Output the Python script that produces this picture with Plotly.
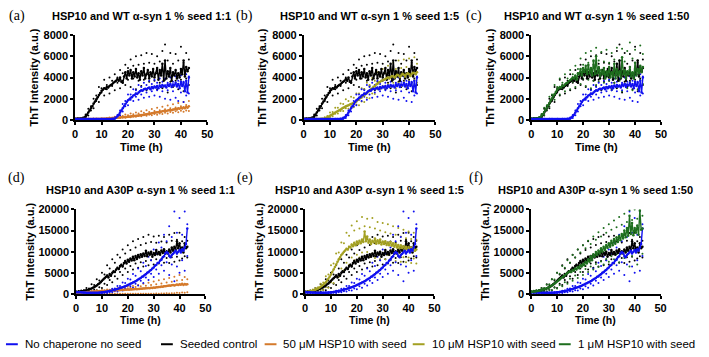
import plotly.graph_objects as go

# ---------------- DATA ----------------
# Mean curves, sampled every 0.5 h (t = 0 ... 43 h)
MEAN_STEP = 0.5
# Replicate points, sampled every 1 h (t = 0 ... 43 h)
REP_STEP = 1.0

WT_BLUE = [100,100,105,100,100,105,100,100,100,105,
           100,100,100,100,105,100,100,100,105,100,
           100,100,100,105,100,100,105,100,110,120,
           150,230,350,500,700,900,1100,1300,1500,1700,
           1850,1950,2100,2150,2300,2350,2500,2450,2600,2700,
           2800,2750,2900,2950,2900,3000,3050,2900,3100,3000,
           3150,3050,3200,3000,3250,3100,3300,3150,3250,3050,
           3350,3200,3400,3100,3350,3250,3500,3150,3400,3000,
           3600,3200,3500,2700,3700,2600,4000]
WT_BLUE_R1 = [115,105,120,110,100,115,105,120,110,100,115,
              105,118,110,130,230,480,900,1500,1800,2400,2400,
              2900,2800,3300,3100,3500,3300,3700,3400,3800,3500,3900,
              3600,3900,3500,4000,3600,4100,3700,4200,3600,4300,4100]
WT_BLUE_R2 = [85,95,80,90,95,85,90,80,95,85,90,
              95,85,90,100,110,190,450,800,1300,1400,1900,
              1800,2200,1900,2400,2100,2600,2200,2700,2300,2800,2200,
              2700,2000,2800,1900,2700,2100,1800,2600,1700,2300,2500]

WT_BLACK = [100,120,110,130,120,140,160,230,350,500,
            700,900,1100,1300,1550,1750,1950,2150,2350,2550,
            2750,2850,3000,2950,3100,3050,3200,3300,3350,3500,
            3600,3700,3850,3700,4000,3600,3500,4100,4500,3900,
            4600,4200,4700,3900,4500,4100,4800,4000,4400,3800,
            4600,4200,4900,3900,4300,4700,3900,4500,4100,4800,
            4000,4400,4900,3800,4700,4200,5300,3700,5600,3900,
            4600,4100,4900,3700,4500,4200,4700,3900,4400,4000,
            4800,4300,5600,4100,5000,4600,4900]
WT_BLACK_R1 = [150,170,140,230,520,1050,1300,2000,2300,3100,3000,
               3800,3300,4000,3700,4300,4000,4700,4400,5200,4900,5700,
               5100,6000,5200,6100,5300,6300,5400,6200,5300,6000,5500,
               6500,7100,5600,6300,5300,6200,5600,6900,5400,6300,5700]
WT_BLACK_R2 = [70,95,105,110,240,420,900,1100,1800,1700,2600,
               2300,2900,2500,3200,2800,3500,3000,3700,3300,3800,3100,
               3900,2900,3700,3200,3800,2800,3600,3100,3700,2900,3500,
               3000,3800,2600,3600,3100,3700,2900,3800,2700,3900,3300]

WT_50UM = [100,100,100,100,100,100,100,100,100,100,
           100,100,100,100,100,100,100,100,100,105,
           110,115,120,130,140,150,160,170,180,190,
           200,210,220,235,240,255,260,275,280,290,
           300,320,330,350,360,380,400,410,430,450,
           470,480,500,530,550,560,590,600,640,650,
           680,700,730,740,780,790,820,840,870,860,
           900,930,950,920,990,1000,1050,980,1100,1050,
           1150,1080,1200,1100,1250,1150,1300]
WT_50UM_R1 = [115,105,120,110,100,115,105,120,110,100,115,
              120,160,230,220,320,290,420,380,520,460,610,
              540,720,610,820,690,930,760,1040,850,1150,930,
              1260,1010,1370,1100,1480,1190,1600,1290,1700,1420,1800]
WT_50UM_R2 = [85,95,80,90,95,85,90,80,95,85,90,
              95,115,130,150,140,190,180,240,220,290,260,
              340,300,390,350,440,400,500,450,560,500,620,
              560,690,620,760,680,820,730,880,780,900,850]

WT_10UM = [100,100,100,100,100,100,100,100,100,100,
           100,100,105,110,120,130,150,200,250,320,
           400,480,550,620,700,780,850,930,1000,1080,
           1150,1230,1300,1350,1400,1450,1500,1550,1600,1680,
           1750,1880,1930,2080,2130,2280,2330,2480,2520,2690,
           2720,2930,2970,3140,3170,3340,3380,3540,3570,3690,
           3750,3800,3850,3950,4000,3900,4050,4150,4100,4000,
           4150,4250,4200,4050,4200,4350,4250,4100,4300,4400,
           4300,4150,4350,4450,4400,4300,4500]
WT_10UM_R1 = [115,105,120,110,100,115,105,120,260,380,720,
              760,1150,1150,1550,1500,1950,1800,2200,2100,2500,2500,
              3000,2900,3500,3300,3950,3700,4500,4100,4800,4400,5100,
              4700,5400,4800,5600,4900,5700,5000,5800,5100,5900,5300]
WT_10UM_R2 = [85,95,80,90,95,85,90,80,100,130,280,
              360,580,620,850,860,1100,1050,1250,1200,1450,1400,
              1750,1700,2100,2050,2500,2450,2900,2900,3200,3000,3400,
              3100,3500,3000,3500,3200,3600,3100,3700,3300,3800,3500]

WT_1UM = [120,130,120,140,130,150,180,260,400,550,
          750,950,1150,1400,1600,1850,2050,2250,2450,2650,
          2850,3000,3100,3050,3250,3200,3350,3450,3500,3650,
          3750,3850,4000,3900,4200,3800,4400,4300,4800,4200,
          4900,4500,5100,4300,5200,4400,4900,4200,5600,4300,
          6000,4400,5000,4100,4700,4300,4900,3900,4600,4200,
          5000,4000,4500,4100,5300,3900,4800,4200,4600,4000,
          5900,4300,4700,3900,4600,4300,5000,4100,4500,3900,
          5400,4200,4800,4400,5100,4500,5000]
WT_1UM_R1 = [160,180,170,260,560,1150,1400,2200,2400,3300,3100,
             3900,3500,4300,3900,4700,4300,5100,4800,5800,5200,6300,
             5400,6500,5500,6800,5600,6400,5500,6600,5400,6300,5700,
             6800,5600,6700,5500,6500,7300,5800,6600,5600,7000,6200]
WT_1UM_R2 = [85,105,100,140,280,480,950,1250,1900,1900,2700,
             2400,3000,2700,3300,2900,3600,3100,3900,3400,3900,3200,
             3800,3000,3700,3300,3600,2900,3500,3100,3700,2800,3500,
             3100,3700,2700,3400,3000,3600,2800,3500,2900,3800,3400]

A30P_BLUE = [400,420,380,400,380,360,350,330,320,300,
             300,290,280,280,280,290,300,310,330,350,
             380,410,450,500,550,620,680,750,830,920,
             1000,1100,1200,1300,1400,1500,1600,1700,1800,1950,
             2100,2250,2400,2550,2700,2850,3000,3200,3400,3600,
             3800,4050,4150,4500,4650,5000,5150,5500,5650,6050,
             6250,6700,6850,7300,7400,7900,8100,8700,8900,9600,
             9900,9700,9000,8700,9200,9500,9800,10200,9600,10000,
             10400,9800,10600,10200,11000,11800,15500]
A30P_BLUE_R1 = [520,460,470,400,420,360,390,350,400,380,470,
                520,760,850,1250,1300,1900,1900,2700,2600,3600,3400,
                4700,4300,6000,5400,7400,6600,8800,8000,10500,9600,12200,
                11000,14000,12500,16000,13500,19500,14500,18000,14000,19500,16500]
A30P_BLUE_R2 = [280,300,240,260,200,220,170,210,180,230,210,
                280,260,400,380,620,560,900,800,1300,1100,1800,
                1500,2400,2000,3100,2600,3900,3300,4800,4000,5800,4800,
                6800,5500,7500,4500,7000,3000,6500,5000,8000,5500,9000]

A30P_BLACK = [400,450,500,550,600,650,700,780,850,950,
              1050,1150,1300,1450,1600,1800,2000,2300,2500,2800,
              3100,3400,3700,4000,4400,3900,4700,4300,5000,5400,
              5200,5800,6200,5900,6600,6900,6500,7300,7800,7200,
              8100,7600,8400,7900,8800,8000,9000,8300,9200,8600,
              9400,8800,9600,9000,10200,8900,9800,9300,10000,8800,
              9700,9200,10400,9400,9900,9300,10300,9700,10600,9500,
              10100,9600,10500,9800,11000,10200,11200,10400,12500,10800,
              12000,10300,11000,9800,12000,10800,11200]
A30P_BLACK_R1 = [620,700,850,900,1400,1300,2300,2100,3500,3200,5000,
                 4600,6800,6000,8200,7400,9300,8600,10500,9600,11500,10400,
                 12500,11000,13000,11600,13500,12000,14000,12300,13600,12100,13800,
                 12400,13500,12200,14000,12600,14400,12800,14500,12500,13500,12600]
A30P_BLACK_R2 = [250,300,300,420,400,650,600,1000,900,1600,1400,
                 2400,2100,3300,2800,4200,3600,5200,4500,6000,5200,6600,
                 5800,7200,6200,7500,6500,7800,6800,8000,7000,8200,7200,
                 8300,7400,8500,7300,8700,7600,8800,7900,8400,8900,8600]

A30P_50UM = [300,320,330,340,350,360,380,400,420,440,
             460,480,500,520,540,560,580,600,620,640,
             660,680,700,720,740,760,780,800,820,840,
             870,860,920,900,950,930,980,960,1010,990,
             1040,1020,1080,1060,1120,1100,1160,1140,1200,1180,
             1240,1230,1300,1280,1350,1340,1400,1380,1450,1440,
             1520,1500,1590,1570,1670,1640,1750,1720,1830,1800,
             1900,1950,2000,1950,2050,2100,2000,2150,2250,2100,
             2300,2200,2400,2150,2350,2250,2300]
A30P_50UM_R1 = [450,470,520,510,580,580,680,680,800,780,920,
                880,1050,1000,1180,1100,1350,1250,1500,1350,1700,1500,
                1900,1650,2150,1800,2400,1950,2650,2100,2950,2300,3250,
                2500,3500,2700,3800,2900,4100,3200,4500,3300,4000,3500]
A30P_50UM_R2 = [150,160,130,140,110,120,90,110,80,100,70,
                90,60,80,50,70,40,60,40,50,30,50,
                30,50,40,60,40,70,50,80,60,100,80,
                120,90,150,100,200,150,280,250,350,300,400]

A30P_10UM = [400,450,500,580,650,730,800,900,1000,1150,
             1300,1500,1700,1950,2200,2500,2800,3200,3600,4100,
             4600,5200,5800,6400,7000,7600,8200,8700,9200,9600,
             10000,10300,10700,10500,11200,11000,11700,11300,12100,11500,
             12400,11800,12600,12000,12900,12300,14800,12500,13600,12100,
             12900,11800,12600,12200,13100,11900,12700,12000,12900,11700,
             12400,11800,12500,11600,12200,11500,12300,11400,12000,11200,
             11800,11000,11600,10800,11500,10900,11300,10600,11200,10500,
             11100,10400,11000,10300,10900,10200,10500]
A30P_10UM_R1 = [500,650,850,1050,1400,1600,2400,2700,4200,4600,6800,
                7200,9600,9800,12200,12000,14500,13800,16200,15000,17200,15500,
                18200,16000,17800,15800,18000,15500,17000,15000,16800,14600,16500,
                14300,16000,14000,15600,13600,15200,13200,14800,13000,14500,12800]
A30P_10UM_R2 = [300,340,420,440,600,620,950,950,1600,1500,2800,
                2600,4400,4000,6000,5600,7400,6900,8600,8000,9300,8600,
                9800,8800,9900,8700,9600,8500,9500,8300,9400,8200,9200,
                8000,9000,7800,8900,7600,8700,7500,8600,7300,8400,7200]

A30P_1UM = [500,520,560,600,650,700,760,830,900,1000,
            1100,1200,1350,1500,1650,1800,2000,2200,2450,2700,
            2950,3200,3450,3700,3950,4200,4450,4700,4950,5200,
            5400,5200,5700,5500,6000,5800,6400,6100,6800,6500,
            7100,6800,7600,7200,8200,7600,8900,8000,9400,8800,
            9900,9200,10300,9600,10800,10000,11200,10400,11600,10900,
            12000,11200,12600,11500,13000,11900,13400,12300,13800,12700,
            14200,13100,15000,13400,15600,13800,18500,14200,16800,13900,
            15600,14500,16200,14000,19700,15200,15500]
A30P_1UM_R1 = [700,760,900,950,1350,1400,2200,2300,3500,3400,5000,
               4800,6600,6200,8000,7400,9200,8600,10500,9800,11500,10800,
               12600,11800,13600,12800,14600,13600,15600,14500,16500,15200,17400,
               15800,18200,16400,19000,17000,19800,17500,20000,17800,20000,18500]
A30P_1UM_R2 = [300,330,330,420,420,650,600,1000,900,1500,1300,
               2100,1800,2800,2400,3600,3100,4400,3800,5200,4500,5900,
               5200,6500,5800,7100,6400,7700,7000,8300,7600,8900,8200,
               9400,7500,9800,8500,10200,6500,9000,10500,7000,11000,9500]

SERIES_NAMES = ["No chaperone no seed", "Seeded control", "50 μM HSP10 with seed",
                "10 μM HSP10 with seed", "1 μM HSP10 with seed"]
COLORS = {"No chaperone no seed": "#1010F0", "Seeded control": "#000000",
          "50 μM HSP10 with seed": "#D47A2C", "10 μM HSP10 with seed": "#A3A022",
          "1 μM HSP10 with seed": "#1E6E1E"}

PANEL_TITLES = ["HSP10 and WT α-syn 1 % seed 1:1", "HSP10 and WT α-syn 1 % seed 1:5",
                "HSP10 and WT α-syn 1 % seed 1:50", "HSP10 and A30P α-syn 1 % seed 1:1",
                "HSP10 and A30P α-syn 1 % seed 1:5", "HSP10 and A30P α-syn 1 % seed 1:50"]
PANEL_LABELS = ["(a)", "(b)", "(c)", "(d)", "(e)", "(f)"]
X_TITLE = "Time (h)"
Y_TITLE = "ThT Intensity (a.u.)"
X_TICKS = [0, 10, 20, 30, 40, 50]
Y_TICKS_WT = [0, 2000, 4000, 6000, 8000]
Y_TICKS_A30P = [0, 5000, 10000, 15000, 20000]

WT = {"No chaperone no seed": (WT_BLUE, WT_BLUE_R1, WT_BLUE_R2),
      "Seeded control": (WT_BLACK, WT_BLACK_R1, WT_BLACK_R2),
      "50 μM HSP10 with seed": (WT_50UM, WT_50UM_R1, WT_50UM_R2),
      "10 μM HSP10 with seed": (WT_10UM, WT_10UM_R1, WT_10UM_R2),
      "1 μM HSP10 with seed": (WT_1UM, WT_1UM_R1, WT_1UM_R2)}
A30P = {"No chaperone no seed": (A30P_BLUE, A30P_BLUE_R1, A30P_BLUE_R2),
        "Seeded control": (A30P_BLACK, A30P_BLACK_R1, A30P_BLACK_R2),
        "50 μM HSP10 with seed": (A30P_50UM, A30P_50UM_R1, A30P_50UM_R2),
        "10 μM HSP10 with seed": (A30P_10UM, A30P_10UM_R1, A30P_10UM_R2),
        "1 μM HSP10 with seed": (A30P_1UM, A30P_1UM_R1, A30P_1UM_R2)}

# ---------------- LAYOUT ----------------
W, H = 709, 357
SANS = "Liberation Sans, Arial, Helvetica, sans-serif"
SERIF = "Liberation Serif, Times New Roman, serif"


def fx(px):
    return px / W


def fy(py):
    return 1 - py / H


# pixel boxes: (left, right, top, bottom)
BOXES = [(73, 207, 30, 118), (304.5, 438, 30, 118), (535, 666.5, 30, 118),
         (74, 205, 210.5, 298), (306, 437, 210.5, 298), (535, 666, 210.5, 298)]
LABEL_POS = [(14, 10), (245, 10), (477, 10), (14, 178), (245, 178), (479, 178)]
TREAT = ["50 μM HSP10 with seed", "10 μM HSP10 with seed", "1 μM HSP10 with seed"]

fig = go.Figure()
annotations = []
shapes = []

for i in range(6):
    data = WT if i < 3 else A30P
    treat = TREAT[i % 3]
    order = ["Seeded control", treat, "No chaperone no seed"]
    if i == 5:
        order = ["Seeded control", "No chaperone no seed", treat]
    xa = "x" if i == 0 else f"x{i+1}"
    ya = "y" if i == 0 else f"y{i+1}"
    for name in order:
        mean, r1, r2 = data[name]
        tr = [k * REP_STEP for k in range(len(r1))] + [k * REP_STEP for k in range(len(r2))]
        fig.add_trace(go.Scatter(x=tr, y=list(r1) + list(r2), mode="markers",
                                 marker=dict(size=2, color=COLORS[name]),
                                 xaxis=xa, yaxis=ya, showlegend=False, hoverinfo="skip"))
    for name in order:
        mean, r1, r2 = data[name]
        tm = [k * MEAN_STEP for k in range(len(mean))]
        fig.add_trace(go.Scatter(x=tm, y=mean, mode="lines+markers",
                                 line=dict(color=COLORS[name], width=1.4),
                                 marker=dict(size=2.5, color=COLORS[name]),
                                 xaxis=xa, yaxis=ya, showlegend=False, name=name))

    l, r, t, b = BOXES[i]
    yt = Y_TICKS_WT if i < 3 else Y_TICKS_A30P
    axis_common = dict(showline=True, linecolor="black", linewidth=1.6, ticks="outside",
                       ticklen=3, tickwidth=1.6, tickcolor="black", showgrid=False,
                       zeroline=False,
                       tickfont=dict(family=SANS, size=11, color="black", weight="bold"))
    xk = "xaxis" if i == 0 else f"xaxis{i+1}"
    yk = "yaxis" if i == 0 else f"yaxis{i+1}"
    fig.update_layout(**{
        xk: dict(domain=[fx(l), fx(r)], range=[0, 50], tickvals=X_TICKS,
                 anchor=ya, **axis_common),
        yk: dict(domain=[fy(b), fy(t)], range=[0, yt[-1]], tickvals=yt,
                 tickformat="d", anchor=xa,
                 title=dict(text=Y_TITLE, standoff=3 if i < 3 else 2,
                            font=dict(family=SANS, size=11, color="black", weight="bold")),
                 **axis_common),
    })
    cx = (l + r) / 2
    title_y = 10 if i < 3 else 190
    annotations.append(dict(x=fx(cx), y=fy(title_y), xref="paper", yref="paper",
                            text=f"<b>{PANEL_TITLES[i]}</b>", showarrow=False,
                            xanchor="center", yanchor="middle",
                            font=dict(family=SANS, size=11, color="black")))
    lx, ly = LABEL_POS[i]
    annotations.append(dict(x=fx(lx), y=fy(ly), xref="paper", yref="paper",
                            text=PANEL_LABELS[i], showarrow=False,
                            xanchor="center", yanchor="middle",
                            font=dict(family=SERIF, size=14, color="black")))
    xt_y = 146 if i < 3 else 325
    annotations.append(dict(x=fx(cx), y=fy(xt_y), xref="paper", yref="paper",
                            text=f"<b>{X_TITLE}</b>", showarrow=False,
                            xanchor="center", yanchor="middle",
                            font=dict(family=SANS, size=10.5 if i >= 3 else 11,
                                      color="black")))

# manual legend at the bottom
LEG_LINE = [(3, 15), (160, 172), (265, 277), (415, 427), (563, 575)]
LEG_Y = 350
for name, (x0, x1) in zip(SERIES_NAMES, LEG_LINE):
    shapes.append(dict(type="line", xref="paper", yref="paper",
                       x0=fx(x0), x1=fx(x1), y0=fy(LEG_Y), y1=fy(LEG_Y),
                       line=dict(color=COLORS[name], width=2)))
    annotations.append(dict(x=fx(x1 + 5), y=fy(LEG_Y), xref="paper", yref="paper",
                            text=name, showarrow=False, xanchor="left", yanchor="middle",
                            font=dict(family=SANS, size=11.5, color="black")))

fig.update_layout(width=W, height=H, margin=dict(l=0, r=0, t=0, b=0),
                  paper_bgcolor="white", plot_bgcolor="white",
                  showlegend=False, annotations=annotations, shapes=shapes)

fig.write_html("out.html")
